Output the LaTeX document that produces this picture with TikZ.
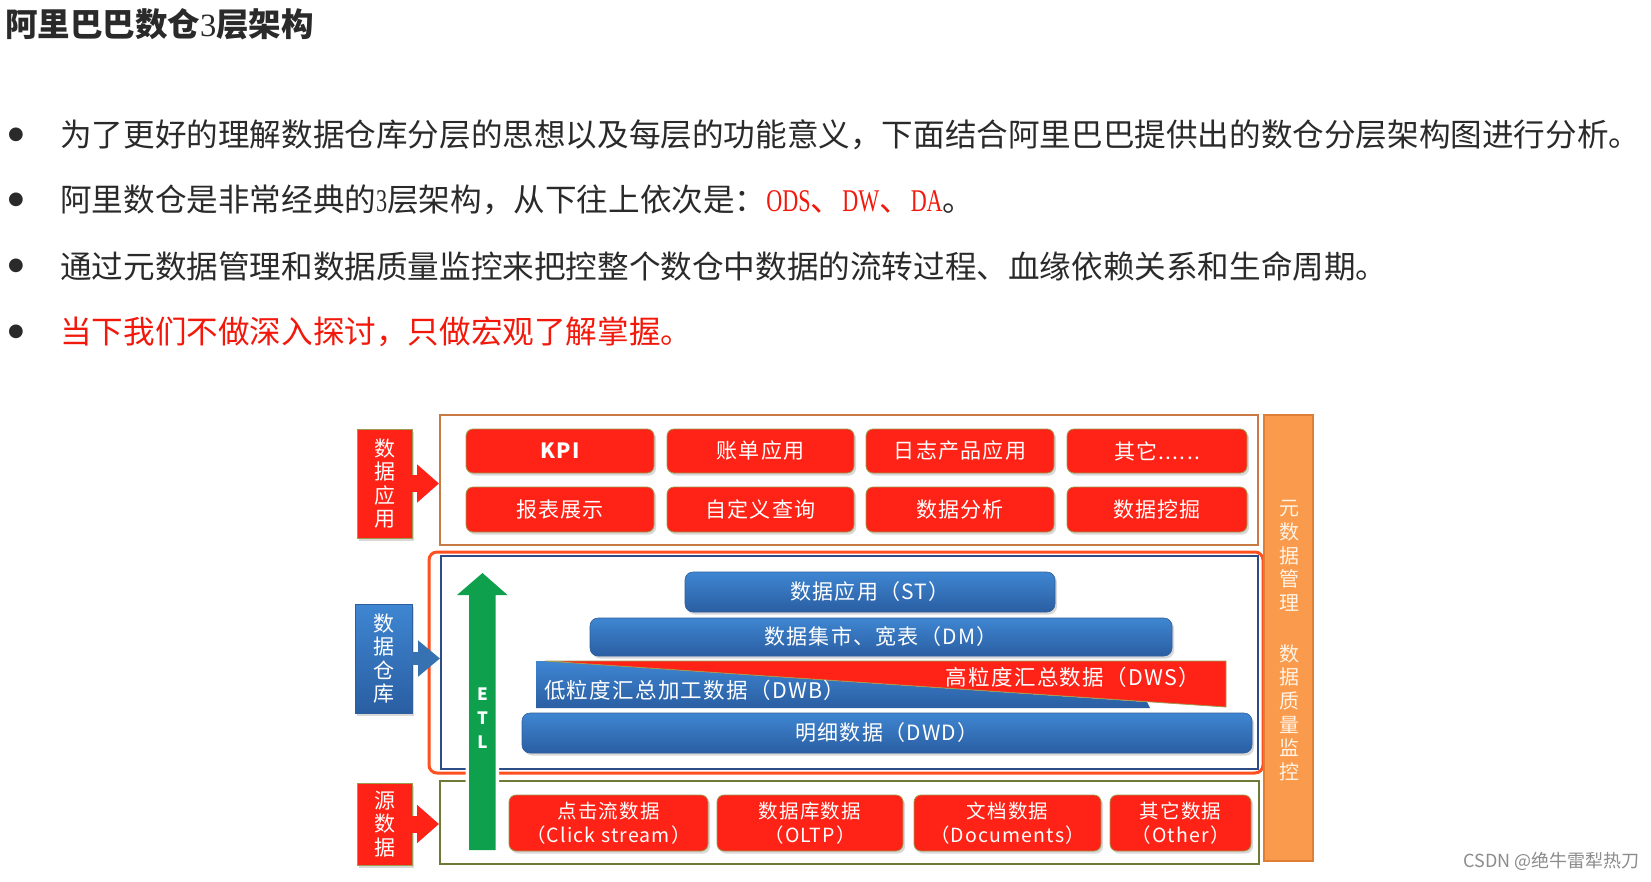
\documentclass[tikz,border=0pt]{standalone}
\usepackage{fontspec}
\usepackage{graphicx}
\setmainfont{Noto Sans CJK SC}
\newfontfamily\spaced[LetterSpace=6]{Noto Sans CJK SC}
\newfontfamily\serifnum{Liberation Serif}
\newfontfamily\symfont{DejaVu Sans}
\usetikzlibrary{shadows,arrows.meta}
\newcommand{\narrowtxt}[1]{\scalebox{0.7}[1]{\serifnum #1}}
\definecolor{btnred}{HTML}{FF2216}
\definecolor{btnedge}{HTML}{A09A50}
\definecolor{appedge}{HTML}{C97A44}
\definecolor{whred}{HTML}{FF5020}
\definecolor{whblue}{HTML}{2C4C88}
\definecolor{srcedge}{HTML}{6E7B36}
\definecolor{metafill}{HTML}{FA9A4C}
\definecolor{metaedge}{HTML}{DD7F36}
\definecolor{metatextc}{HTML}{FFF4E6}
\definecolor{bluetop}{HTML}{3F86D2}
\definecolor{bluebot}{HTML}{2A5EA2}
\definecolor{blueedge}{HTML}{2E5E9C}
\definecolor{etlgreen}{HTML}{0FA04E}
\definecolor{textgray}{HTML}{2A2A2A}
\definecolor{hired}{HTML}{F2190C}
\begin{document}
\begin{tikzpicture}[x=1pt,y=-1pt,
  shad/.style={drop shadow={shadow xshift=2pt,shadow yshift=-2.5pt,opacity=0.3}},
  redlabel/.style={fill=btnred,draw=btnedge,line width=0.8pt,text=white,inner sep=0pt,align=center,font=\fontsize{21}{23.3}\selectfont,shad},
  bluelabel/.style={top color=bluetop,bottom color=bluebot,draw=blueedge,line width=0.8pt,text=white,inner sep=0pt,align=center,font=\fontsize{21}{23.3}\selectfont,shad},
  redbtn/.style={fill=btnred,draw=btnedge,line width=0.8pt,rounded corners=7pt,text=white,inner sep=0pt,font=\spaced\fontsize{21}{24}\selectfont,shad},
  srcbtn/.style={redbtn,align=center,font=\spaced\fontsize{19.5}{23.5}\selectfont},
  bluebar/.style={top color=bluetop,bottom color=bluebot,draw=blueedge,line width=0.6pt,rounded corners=8pt,text=white,inner sep=0pt,font=\spaced\fontsize{21}{24}\selectfont,shad},
  wedgetext/.style={inner sep=0pt,text=white,font=\spaced\fontsize{21.5}{24}\selectfont},
  metatext/.style={inner sep=0pt,text=metatextc,align=center,font=\fontsize{20}{23.6}\selectfont},
  bodyline/.style={anchor=west,inner sep=0pt,text=textgray,font=\fontsize{31.6}{38}\selectfont},
  bulletmark/.style={inner sep=0pt,text=textgray,font=\symfont\fontsize{18}{18}\selectfont},
  redarrow/.style={draw=btnred,line width=17pt,-{Triangle[length=22pt,width=37pt]}},
  bluearrow/.style={draw=bluetop!85!black,line width=13pt,-{Triangle[length=22pt,width=35pt]}}
]
\useasboundingbox (0,0) rectangle (1651,881);
\fill[white] (0,0) rectangle (1651,881);

% title and bullet text
\node[anchor=west,inner sep=0pt,text=textgray,font=\fontsize{32.5}{38}\selectfont\bfseries] (title) at (5,24) {阿里巴巴数仓{\serifnum\mdseries 3}层架构};

\node[bulletmark] (b1) at (16,135) {●};
\node[bodyline] (l1) at (60,135) {为了更好的理解数据仓库分层的思想以及每层的功能意义，下面结合阿里巴巴提供出的数仓分层架构图进行分析\makebox[0.45em][l]{。}};
\node[bulletmark] (b2) at (16,200) {●};
\node[bodyline] (l2) at (60,200) {阿里数仓是非常经典的\narrowtxt{3}层架构，从下往上依次是：{\color{hired}\narrowtxt{ODS}、\narrowtxt{DW}、\narrowtxt{DA}}。};
\node[bulletmark] (b3) at (16,266) {●};
\node[bodyline] (l3) at (60,266) {通过元数据管理和数据质量监控来把控整个数仓中数据的流转过程、血缘依赖关系和生命周期。};
\node[bulletmark] (b4) at (16,332) {●};
\node[bodyline,text=hired] (l4) at (60,332) {当下我们不做深入探讨，只做宏观了解掌握。};

% frames
\node[draw=appedge,line width=2pt,fill=white,minimum width=818pt,minimum height=130pt,inner sep=0pt] (appbox) at (849,480) {};
\node[draw=whred,line width=3pt,rounded corners=8pt,minimum width=834pt,minimum height=221pt,inner sep=0pt] (whouter) at (846,662.5) {};
\node[draw=whblue,line width=2pt,minimum width=817pt,minimum height=213pt,inner sep=0pt] (whinner) at (849.5,662.5) {};
\node[draw=srcedge,line width=2pt,minimum width=819pt,minimum height=83pt,inner sep=0pt] (srcbox) at (849.5,822.5) {};
\node[fill=metafill,draw=metaedge,line width=1.5pt,minimum width=49pt,minimum height=446pt,inner sep=0pt] (metabar) at (1288.5,638) {};
\node[metatext] (m1) at (1289,556) {元\\数\\据\\管\\理};
\node[metatext] (m2) at (1289,712.5) {数\\据\\质\\量\\监\\控};

% left labels
\node[redlabel,minimum width=55pt,minimum height=109pt] (la) at (384.5,483.5) {数\\据\\应\\用};
\node[bluelabel,minimum width=57pt,minimum height=109pt] (lw) at (383.5,658.5) {数\\据\\仓\\库};
\node[redlabel,minimum width=55pt,minimum height=82pt] (ls) at (384.5,824) {源\\数\\据};
\draw[redarrow] (la.east) -- (la.east -| appbox.west);
\draw[bluearrow] (lw.east) -- (lw.east -| whinner.west);
\draw[redarrow] (ls.east) -- (ls.east -| srcbox.west);

% application buttons
\node[redbtn,minimum width=188pt,minimum height=44pt] (kpi) at (560,451) {\bfseries KPI};
\node[redbtn,minimum width=187pt,minimum height=44pt] (bill) at (760.5,451) {账单应用};
\node[redbtn,minimum width=188pt,minimum height=44pt] (log) at (960,451) {日志产品应用};
\node[redbtn,minimum width=180pt,minimum height=44pt] (oth1) at (1157,451) {其它......};
\node[redbtn,minimum width=188pt,minimum height=45pt] (rep) at (560,509.5) {报表展示};
\node[redbtn,minimum width=187pt,minimum height=45pt] (qry) at (760.5,509.5) {自定义查询};
\node[redbtn,minimum width=188pt,minimum height=45pt] (ana) at (960,509.5) {数据分析};
\node[redbtn,minimum width=180pt,minimum height=45pt] (min) at (1157,509.5) {数据挖掘};

% warehouse layers
\node[bluebar,minimum width=370pt,minimum height=40pt] (st) at (870,592) {数据应用（ST）};
\node[bluebar,minimum width=582pt,minimum height=38pt] (dm) at (881,637) {数据集市、宽表（DM）};
\shade[top color=bluetop,bottom color=bluebot] (536,661) -- (545,661) -- (1147,702) -- (1150,708) -- (536,708) -- cycle;
\fill[btnred] (545,661) -- (1226,661) -- (1226,707) -- cycle;
\draw[btnedge,line width=0.8pt] (545,661) -- (1226,661) -- (1226,707) -- cycle;
\node[anchor=west,wedgetext] (dwb) at (544,690) {低粒度汇总加工数据（DWB）};
\node[anchor=east,wedgetext] (dws) at (1200,677) {高粒度汇总数据（DWS）};
\node[bluebar,minimum width=730pt,minimum height=40pt] (dwd) at (887,733) {明细数据（DWD）};

% source buttons
\node[srcbtn,minimum width=199pt,minimum height=56pt] (click) at (608.5,823) {点击流数据\\（Click stream）};
\node[srcbtn,minimum width=186pt,minimum height=56pt] (oltp) at (810,823) {数据库数据\\（OLTP）};
\node[srcbtn,minimum width=187pt,minimum height=56pt] (doc) at (1007.5,823) {文档数据\\（Documents）};
\node[srcbtn,minimum width=141pt,minimum height=56pt] (oth2) at (1180.5,823) {其它数据\\（Other）};

% ETL arrow
\coordinate (etlbase) at (482.5,850);
\coordinate (etltip) at (482.5,573);
\draw[white,line width=7pt,line join=miter] (etlbase) ++(-13.5,0) -- ++(0,-255) -- ++(-12,0) -- (etltip) -- ++(25,22) -- ++(-12,0) -- ++(0,255) -- cycle;
\fill[etlgreen] (etlbase) ++(-13.5,0) -- ++(0,-255) -- ++(-12,0) -- (etltip) -- ++(25,22) -- ++(-12,0) -- ++(0,255) -- cycle;
\node[inner sep=0pt,text=white,align=center,font=\fontsize{17}{24}\selectfont\bfseries] (etl) at (482.5,718) {E\\T\\L};

% watermark
\node[anchor=east,inner sep=0pt,text=black!45,font=\fontsize{18}{20}\selectfont] (wm) at (1640,861) {CSDN @绝牛雷犁热刀};
\end{tikzpicture}
\end{document}
